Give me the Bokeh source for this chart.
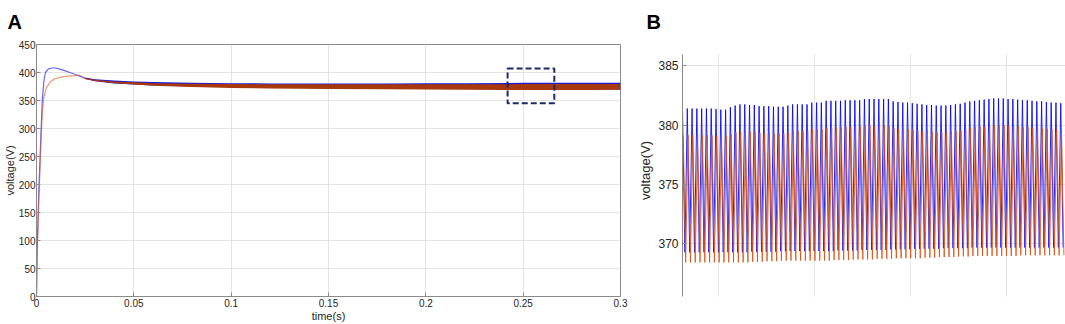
from bokeh.plotting import figure
from bokeh.layouts import row
from bokeh.models import FixedTicker, Range1d
from bokeh.embed import file_html
from bokeh.resources import INLINE

FONT = "Liberation Sans"

# ---------------- Panel A: start-up transient ----------------
t_blue_start = [0, 0.0003, 0.0012, 0.0024, 0.003, 0.0038, 0.0046, 0.006, 0.008, 0.0097,
                0.012, 0.0148, 0.0175, 0.0199, 0.0225, 0.025]
v_blue_start = [0, 80, 190, 300, 352, 385, 400, 406, 408, 408,
                406, 403, 399.5, 396.5, 393, 390]
t_orange_start = [0, 0.0003, 0.0012, 0.0024, 0.003, 0.0037, 0.005, 0.007, 0.009, 0.0114,
                  0.015, 0.018, 0.02, 0.022, 0.0235, 0.025]
v_orange_start = [0, 70, 170, 285, 330, 355, 372, 383, 388, 391,
                  393, 394, 394.5, 395.5, 392, 389]

# Panel A: envelope of the fast ripple after start-up
t_env = [0.025, 0.03, 0.04, 0.05, 0.06, 0.08, 0.10, 0.12, 0.15, 0.18, 0.20, 0.22, 0.25, 0.28, 0.30]
blue_hi = [391, 388, 385.5, 384, 383, 381.5, 381, 380.5, 380.5, 380.5, 381, 381, 381.5, 381.8, 381.8]
blue_lo = [389, 384.5, 380.5, 378.5, 377, 375, 374, 373, 372, 371.5, 371, 370.5, 369.8, 369.6, 369.6]
orange_hi = [390, 387, 384, 382.5, 381, 380, 379.5, 379, 379, 379, 379, 379, 379.3, 379.5, 379.5]
orange_lo = [388, 385, 381, 378.5, 376.5, 374, 372.5, 371.5, 370.5, 370, 369.5, 369, 368.7, 368.8, 369.0]

# zoom window shown in panel B
zoom_t = [0.242, 0.266]
zoom_v = [345, 407]

xticks_A = [0, 0.05, 0.1, 0.15, 0.2, 0.25, 0.3]
xtick_labels_A = ["0", "0.05", "0.1", "0.15", "0.2", "0.25", "0.3"]
yticks_A = [0, 50, 100, 150, 200, 250, 300, 350, 400, 450]

# ---------------- Panel B: zoomed ripple, per-cycle peaks and troughs ----------------
B_T0 = 0.24313        # time of first blue peak
B_PERIOD = 0.0002494  # ripple period
ORANGE_LAG = 0.00004

blue_peak = [
    381.4, 381.4, 381.4, 381.4, 381.4, 381.4, 381.4, 381.35, 381.3, 381.3,
    381.5, 381.65, 381.75, 381.75, 381.7, 381.7, 381.6, 381.6, 381.6, 381.55,
    381.55, 381.55, 381.65, 381.75, 381.75, 381.75, 381.75, 381.9, 381.9, 381.9,
    382.05, 382.05, 382.05, 382.05, 382.1, 382.1, 382.1, 382.1, 382.2, 382.2,
    382.2, 382.2, 382.2, 382.2, 382.0, 381.95, 381.9, 381.9, 381.85, 381.8,
    381.75, 381.7, 381.7, 381.65, 381.65, 381.65, 381.7, 381.75, 381.8, 381.9,
    382.0, 382.05, 382.1, 382.15, 382.2, 382.25, 382.25, 382.25, 382.2, 382.2,
    382.15, 382.1, 382.1, 382.05, 382.0, 382.0, 381.95, 381.9, 381.9, 381.85]
blue_trough = [
    369.3, 369.3, 369.3, 369.3, 369.3, 369.3, 369.3, 369.3, 369.3, 369.3,
    369.3, 369.3, 369.3, 369.3, 369.35, 369.35, 369.35, 369.35, 369.35, 369.35,
    369.4, 369.4, 369.4, 369.4, 369.4, 369.4, 369.4, 369.4, 369.4, 369.4,
    369.4, 369.4, 369.45, 369.45, 369.45, 369.45, 369.45, 369.5, 369.5, 369.5,
    369.5, 369.5, 369.5, 369.55, 369.55, 369.55, 369.55, 369.55, 369.6, 369.6,
    369.6, 369.6, 369.6, 369.6, 369.65, 369.65, 369.65, 369.65, 369.65, 369.65,
    369.7, 369.7, 369.7, 369.7, 369.7, 369.7, 369.7, 369.7, 369.7, 369.7,
    369.7, 369.7, 369.7, 369.7, 369.7, 369.7, 369.7, 369.7, 369.7, 369.7]
orange_peak = [
    379.15, 379.15, 379.15, 379.15, 379.15, 379.15, 379.15, 379.1, 379.05, 379.05,
    379.25, 379.4, 379.5, 379.5, 379.45, 379.45, 379.35, 379.35, 379.35, 379.3,
    379.3, 379.3, 379.4, 379.5, 379.5, 379.5, 379.5, 379.65, 379.65, 379.65,
    379.8, 379.8, 379.8, 379.8, 379.85, 379.85, 379.85, 379.85, 379.95, 379.95,
    379.95, 379.95, 379.95, 379.95, 379.75, 379.7, 379.65, 379.65, 379.6, 379.55,
    379.5, 379.45, 379.45, 379.4, 379.4, 379.4, 379.45, 379.5, 379.55, 379.65,
    379.75, 379.8, 379.85, 379.9, 379.95, 380.0, 380.0, 380.0, 379.95, 379.95,
    379.9, 379.85, 379.85, 379.8, 379.75, 379.75, 379.7, 379.65, 379.65, 379.6]
orange_trough = [
    368.45, 368.45, 368.45, 368.45, 368.45, 368.45, 368.45, 368.45, 368.45, 368.45,
    368.45, 368.45, 368.45, 368.45, 368.5, 368.5, 368.5, 368.55, 368.55, 368.55,
    368.6, 368.6, 368.6, 368.6, 368.6, 368.6, 368.6, 368.6, 368.6, 368.6,
    368.6, 368.65, 368.65, 368.65, 368.65, 368.7, 368.7, 368.7, 368.7, 368.7,
    368.75, 368.75, 368.75, 368.75, 368.8, 368.8, 368.8, 368.8, 368.8, 368.8,
    368.85, 368.85, 368.85, 368.9, 368.9, 368.9, 368.9, 368.95, 368.95, 368.95,
    369.0, 369.0, 369.0, 369.0, 369.0, 369.0, 369.0, 369.0, 369.0, 369.0,
    369.05, 369.05, 369.05, 369.05, 369.05, 369.05, 369.05, 369.05, 369.05, 369.05]

yticks_B = [370, 375, 380, 385]
xgrid_B = [0.245, 0.25, 0.255, 0.26]
B_AXIS_SPAN = (365.25, 385.95)   # extent of panel B's drawn axis

BLUE = "#0000ff"
ORANGE = "#d95319"
AXIS = "#8a8a8a"
TEXT = "#262626"
GRID = "#e3e3e3"


def style_axis(ax, size):
    ax.axis_line_color = AXIS
    ax.major_tick_line_color = AXIS
    ax.major_tick_in = 4
    ax.major_tick_out = 0
    ax.minor_tick_line_color = None
    ax.major_label_text_font = FONT
    ax.major_label_text_font_size = size
    ax.major_label_text_color = TEXT
    ax.axis_label_text_font = FONT
    ax.axis_label_text_font_style = "normal"
    ax.axis_label_text_color = TEXT


def style_title(p, letter, offset):
    p.title.text = letter
    p.title.text_font = FONT
    p.title.text_font_size = "20px"
    p.title.text_font_style = "bold"
    p.title.text_color = "black"
    p.title.align = "left"
    p.title.vertical_align = "top"
    p.title.offset = offset
    if "standoff" in p.title.properties():
        p.title.standoff = 20


# ---------------- Panel A ----------------
pA = figure(width=630, height=324, x_range=Range1d(0, 0.3), y_range=Range1d(0, 450),
            output_backend="svg", toolbar_location=None,
            min_border_left=31, min_border_right=10, min_border_top=43, min_border_bottom=28)
for ax in [pA.xaxis[0], pA.yaxis[0]]:
    style_axis(ax, "10px")
pA.grid.grid_line_color = GRID
pA.outline_line_color = AXIS
pA.xaxis.ticker = FixedTicker(ticks=xticks_A)
pA.xaxis.major_label_overrides = {t: s for t, s in zip(xticks_A, xtick_labels_A)}
pA.yaxis.ticker = FixedTicker(ticks=yticks_A)
pA.xaxis.axis_label = "time(s)"
pA.yaxis.axis_label = "voltage(V)"
pA.xaxis.axis_label_text_font_size = "11px"
pA.yaxis.axis_label_text_font_size = "11px"
pA.xaxis.major_label_standoff = 2
pA.yaxis.major_label_standoff = 1
pA.xaxis.axis_label_standoff = 0
pA.yaxis.axis_label_standoff = 0
style_title(pA, "A", -29)

pA.varea(x=t_env, y1=blue_lo, y2=blue_hi, fill_color="#1a1ad8")
pA.varea(x=t_env, y1=orange_lo, y2=orange_hi, fill_color="#a8380e")
pA.line(t_blue_start, v_blue_start, line_color=BLUE, line_alpha=0.6, line_width=1.2)
pA.line(t_orange_start, v_orange_start, line_color=ORANGE, line_alpha=0.6, line_width=1.2)
pA.quad(left=[zoom_t[0]], right=[zoom_t[1]], bottom=[zoom_v[0]], top=[zoom_v[1]],
        fill_alpha=0, line_color="#1c2a66", line_width=2, line_dash="6 3")

# ---------------- Panel B ----------------
n = len(blue_peak)
tb, vb, to, vo = [], [], [], []
for i in range(n):
    tp = B_T0 + i * B_PERIOD
    tb += [tp, tp + B_PERIOD / 2]
    vb += [blue_peak[i], blue_trough[i]]
    to += [tp + ORANGE_LAG, tp + ORANGE_LAG + B_PERIOD / 2]
    vo += [orange_peak[i], orange_trough[i]]

# frames of the two panels are aligned by the row; panel B's range is chosen so
# that its values sit where they sit in the original
pB = figure(width=435, height=324, x_range=Range1d(0.24313, 0.26308), y_range=Range1d(365.58, 386.79),
            output_backend="svg", toolbar_location=None, x_axis_location=None,
            min_border_left=52, min_border_right=0, min_border_top=43, min_border_bottom=28)
style_axis(pB.yaxis[0], "12px")
pB.yaxis.bounds = B_AXIS_SPAN
pB.ygrid.grid_line_color = GRID
pB.xgrid.visible = False
pB.outline_line_color = None
pB.yaxis.ticker = FixedTicker(ticks=yticks_B)
pB.yaxis.axis_label = "voltage(V)"
pB.yaxis.axis_label_text_font_size = "13px"
pB.yaxis.major_label_standoff = 4
pB.yaxis.axis_label_standoff = 2
style_title(pB, "B", -36)

pB.segment(x0=xgrid_B, x1=xgrid_B, y0=[B_AXIS_SPAN[0]] * len(xgrid_B), y1=[B_AXIS_SPAN[1]] * len(xgrid_B),
           line_color=GRID, line_width=1)
pB.line(tb, vb, line_color=BLUE, line_width=1, line_alpha=0.85)
pB.line(to, vo, line_color=ORANGE, line_width=1, line_alpha=0.85)

layout = row(pA, pB)
open("out.html", "w").write(file_html(layout, INLINE))
